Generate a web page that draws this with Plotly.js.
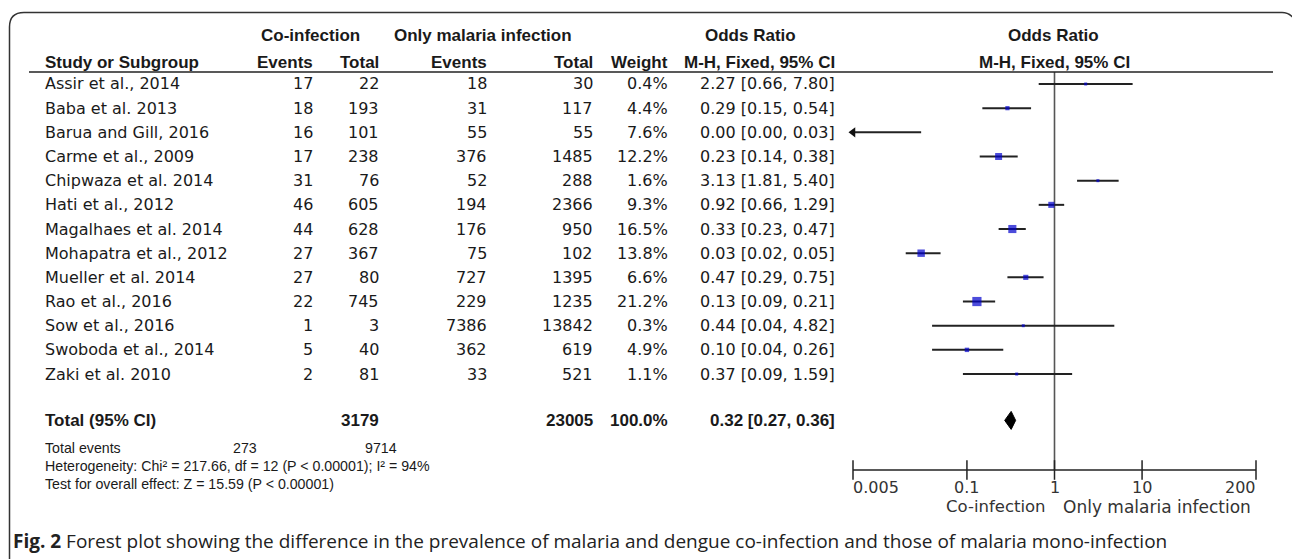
<!DOCTYPE html>
<html><head><meta charset="utf-8">
<script src="https://cdn.plot.ly/plotly-3.0.1.min.js"></script>
<style>html,body{margin:0;padding:0;background:#fff;overflow:hidden}</style>
</head><body><div id="chart" style="width:1292px;height:559px"></div>
<script>
// ---------------- data ----------------
const studies = ["Assir et al., 2014","Baba et al. 2013","Barua and Gill, 2016","Carme et al., 2009","Chipwaza et al. 2014","Hati et al., 2012","Magalhaes et al. 2014","Mohapatra et al., 2012","Mueller et al. 2014","Rao et al., 2016","Sow et al., 2016","Swoboda et al., 2014","Zaki et al. 2010"];
const coEvents = [17,18,16,17,31,46,44,27,27,22,1,5,2];
const coTotal  = [22,193,101,238,76,605,628,367,80,745,3,40,81];
const omEvents = [18,31,55,376,52,194,176,75,727,229,7386,362,33];
const omTotal  = [30,117,55,1485,288,2366,950,102,1395,1235,13842,619,521];
const weight   = [0.4,4.4,7.6,12.2,1.6,9.3,16.5,13.8,6.6,21.2,0.3,4.9,1.1];
const oddsRatio= [2.27,0.29,0.00,0.23,3.13,0.92,0.33,0.03,0.47,0.13,0.44,0.10,0.37];
const ciLow    = [0.66,0.15,0.00,0.14,1.81,0.66,0.23,0.02,0.29,0.09,0.04,0.04,0.09];
const ciHigh   = [7.80,0.54,0.03,0.38,5.40,1.29,0.47,0.05,0.75,0.21,4.82,0.26,1.59];
const totalCo = 3179, totalOm = 23005, totalWeight = 100.0;
const totalOR = 0.32, totalLow = 0.27, totalHigh = 0.36;
const eventsCo = 273, eventsOm = 9714;
const heterogeneity = "Heterogeneity: Chi² = 217.66, df = 12 (P &lt; 0.00001); I² = 94%";
const overallTest = "Test for overall effect: Z = 15.59 (P &lt; 0.00001)";
const tickVals = [0.005, 0.1, 1, 10, 200];
const tickText = ["0.005","0.1","1","10","200"];
const favoursLeft = "Co-infection", favoursRight = "Only malaria infection";
const caption = "<b>Fig. 2</b> Forest plot showing the difference in the prevalence of malaria and dengue co-infection and those of malaria mono-infection";

// ---------------- geometry ----------------
const W = 1292, H = 559;
const px = x => x / W;
const py = y => 1 - y / H;
const rowY = i => 84 + 24.17 * i;
const totalY = rowY(14) - 2;
const eventsY = 448, hetY = 466, testY = 484;
const axisY = 470, headerLineY = 72;
const xMin = tickVals[0], xMax = tickVals[tickVals.length - 1];

const REG = {family: "DejaVu Sans", size: 16, color: "#1a1a1a"};
const BOLD = {family: "Liberation Sans", size: 17, color: "#1a1a1a", weight: "bold"};
const NARROW = {family: "Liberation Sans", size: 14.2, color: "#1a1a1a"};
const AXF = {family: "DejaVu Sans", size: 16, color: "#333"};

const ann = [];
function txt(text, x, y, anchor, font) {
  ann.push({text: text, x: px(x), y: py(y), xref: "paper", yref: "paper",
            xanchor: anchor, yanchor: "middle", showarrow: false, font: font,
            borderpad: 0, borderwidth: 0});
}
// headers
txt("<b>Co-infection</b>", 310, 36, "center", BOLD);
txt("<b>Only malaria infection</b>", 483, 36, "center", BOLD);
txt("<b>Odds Ratio</b>", 750, 36, "center", BOLD);
txt("<b>Odds Ratio</b>", 1053, 36, "center", BOLD);
txt("<b>Study or Subgroup</b>", 45, 62, "left", BOLD);
txt("<b>Events</b>", 313, 62, "right", BOLD);
txt("<b>Total</b>", 379, 62, "right", BOLD);
txt("<b>Events</b>", 487, 62, "right", BOLD);
txt("<b>Total</b>", 593, 62, "right", BOLD);
txt("<b>Weight</b>", 668, 62, "right", BOLD);
txt("<b>M-H, Fixed, 95% CI</b>", 835, 62, "right", BOLD);
txt("<b>M-H, Fixed, 95% CI</b>", 1054, 62, "center", BOLD);
// rows
const f2 = v => v.toFixed(2);
studies.forEach((s, i) => {
  const y = rowY(i);
  txt(s, 45, y, "left", REG);
  txt(String(coEvents[i]), 313, y, "right", REG);
  txt(String(coTotal[i]), 379, y, "right", REG);
  txt(String(omEvents[i]), 487, y, "right", REG);
  txt(String(omTotal[i]), 593, y, "right", REG);
  txt(weight[i].toFixed(1) + "%", 668, y, "right", REG);
  txt(f2(oddsRatio[i]) + " [" + f2(ciLow[i]) + ", " + f2(ciHigh[i]) + "]", 835, y, "right", REG);
});
// totals
txt("<b>Total (95% CI)</b>", 45, totalY, "left", BOLD);
txt("<b>" + totalCo + "</b>", 379, totalY, "right", BOLD);
txt("<b>" + totalOm + "</b>", 593, totalY, "right", BOLD);
txt("<b>" + totalWeight.toFixed(1) + "%</b>", 668, totalY, "right", BOLD);
txt("<b>" + f2(totalOR) + " [" + f2(totalLow) + ", " + f2(totalHigh) + "]</b>", 835, totalY, "right", BOLD);
txt("Total events", 45, eventsY, "left", NARROW);
txt(String(eventsCo), 257, eventsY, "right", NARROW);
txt(String(eventsOm), 397, eventsY, "right", NARROW);
txt(heterogeneity, 45, hetY, "left", NARROW);
txt(overallTest, 45, testY, "left", NARROW);
// axis tick labels
tickVals.forEach((v, i) => {
  ann.push({text: tickText[i], x: Math.log10(v), y: 487, xref: "x", yref: "y",
    xanchor: i === 0 ? "left" : (i === tickVals.length - 1 ? "right" : "center"),
    yanchor: "middle", showarrow: false, font: AXF, borderpad: 0, borderwidth: 0});
});
txt(favoursLeft, 1046, 507, "right", {family: "DejaVu Sans", size: 16.5, color: "#333"});
txt(favoursRight, 1063, 507, "left", {family: "DejaVu Sans", size: 17, color: "#333"});
// caption
txt(caption, 13, 541, "left", {family: "Open Sans", size: 19, color: "#222"});

// ---------------- traces ----------------
const ciX = [], ciY = [], arrowX = [], arrowY = [];
studies.forEach((s, i) => {
  const lo = Math.max(ciLow[i], xMin);
  ciX.push(lo, ciHigh[i], null);
  ciY.push(rowY(i), rowY(i), null);
  if (ciLow[i] < xMin) { arrowX.push(xMin); arrowY.push(rowY(i)); }
});
const traces = [
  {x: [1, 1], y: [headerLineY, axisY], mode: "lines", line: {color: "#555", width: 1.6}, hoverinfo: "skip", cliponaxis: false},
  {x: ciX, y: ciY, mode: "lines", line: {color: "#222", width: 2}, hoverinfo: "skip", cliponaxis: false},
  {x: arrowX, y: arrowY, mode: "markers", marker: {symbol: "triangle-left", size: 9, color: "#111"}, hoverinfo: "skip", cliponaxis: false},
  {x: oddsRatio.map(v => v >= xMin ? v : null), y: studies.map((s, i) => rowY(i)), mode: "markers",
   marker: {symbol: "square", color: "#0000cc", size: weight.map(w => Math.max(3, 2 * Math.sqrt(w))), line: {width: 0}},
   hoverinfo: "skip", cliponaxis: false},
  {x: [totalLow, totalOR, totalHigh, totalOR, totalLow], y: [totalY, totalY - 9, totalY, totalY + 9, totalY],
   mode: "lines", fill: "toself", fillcolor: "#000", line: {color: "#000", width: 1}, hoverinfo: "skip", cliponaxis: false},
  {x: [xMin, xMax], y: [axisY, axisY], mode: "lines", line: {color: "#222", width: 1.5}, hoverinfo: "skip", cliponaxis: false},
  {x: tickVals, y: tickVals.map(() => axisY), mode: "markers",
   marker: {symbol: "line-ns-open", size: 14, color: "#222", line: {color: "#222", width: 1.5}}, hoverinfo: "skip", cliponaxis: false}
];

// ---------------- shapes ----------------
const frame = "M " + px(9.5) + " " + py(560) + " L " + px(9.5) + " " + py(27) +
  " Q " + px(9.5) + " " + py(12.5) + " " + px(24) + " " + py(12.5) +
  " L " + px(1282) + " " + py(12.5) + " Q " + px(1291) + " " + py(12.5) + " " + px(1296) + " " + py(22);
const shapes = [
  {type: "path", xref: "paper", yref: "paper", path: frame, line: {color: "#333", width: 1.5}},
  {type: "line", xref: "paper", yref: "paper", x0: px(29), x1: px(1273), y0: py(headerLineY), y1: py(headerLineY), line: {color: "#222", width: 1.5}}
];

const layout = {
  width: W, height: H, margin: {l: 0, r: 0, t: 0, b: 0},
  paper_bgcolor: "#fff", plot_bgcolor: "rgba(0,0,0,0)",
  showlegend: false, font: REG,
  xaxis: {type: "log", range: [Math.log10(xMin), Math.log10(xMax)], domain: [px(853), px(1256)], visible: false, fixedrange: true},
  yaxis: {range: [H, 0], domain: [0, 1], visible: false, fixedrange: true},
  annotations: ann, shapes: shapes
};
Plotly.newPlot("chart", traces, layout, {displayModeBar: false, staticPlot: true});
</script></body></html>
